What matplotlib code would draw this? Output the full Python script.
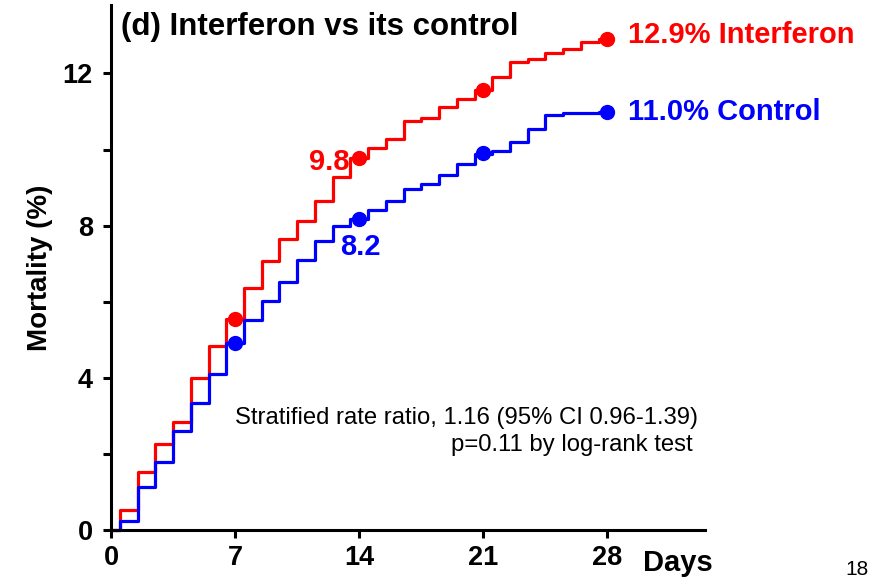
import matplotlib.pyplot as plt
from matplotlib.ticker import MultipleLocator

plt.rcParams['font.family'] = ['Liberation Sans', 'DejaVu Sans']

# Cumulative mortality (%) after each daily step
step_days = [0.5, 1.5, 2.5, 3.5, 4.5, 5.5, 6.5, 7.5, 8.5, 9.5, 10.5, 11.5, 12.5, 13.5,
             14.5, 15.5, 16.5, 17.5, 18.5, 19.5, 20.5, 21.5, 22.5, 23.5, 24.5, 25.5, 26.5, 27.5]
interferon = [0.53, 1.53, 2.26, 2.85, 3.99, 4.84, 5.55, 6.36, 7.07, 7.66, 8.13, 8.66, 9.28, 9.78,
              10.03, 10.27, 10.74, 10.82, 11.12, 11.34, 11.57, 11.91, 12.30, 12.39, 12.54, 12.64, 12.82, 12.90]
control = [0.24, 1.14, 1.80, 2.61, 3.34, 4.10, 4.92, 5.53, 6.03, 6.53, 7.09, 7.59, 8.00, 8.18,
           8.40, 8.64, 8.96, 9.10, 9.34, 9.61, 9.89, 9.97, 10.20, 10.55, 10.90, 10.95, 10.97, 11.00]
end_day = 28

marker_days = [7, 14, 21, 28]
interferon_marks = [5.55, 9.78, 11.57, 12.90]
control_marks = [4.92, 8.18, 9.91, 11.00]

x_ticks = [0, 7, 14, 21, 28]
y_ticks = [0, 4, 8, 12]

red = '#ff0000'
blue = '#0000ff'

fig = plt.figure(figsize=(8.72, 5.81), dpi=100)
ax = fig.add_axes([0.1273, 0.0878, 0.6812, 0.9036])

xs = [0] + step_days + [end_day]
ax.step(xs, [0] + interferon + [interferon[-1]], where='post', color=red, lw=2.3, clip_on=False)
ax.step(xs, [0] + control + [control[-1]], where='post', color=blue, lw=2.3, clip_on=False)
ax.plot(marker_days, interferon_marks, 'o', color=red, ms=10, clip_on=False)
ax.plot(marker_days, control_marks, 'o', color=blue, ms=10, clip_on=False)

ax.set_xlim(0, 33.5)
ax.set_ylim(0, 13.8)
ax.set_xticks(x_ticks)
ax.set_yticks(y_ticks)
ax.yaxis.set_minor_locator(MultipleLocator(2))
for s in ['top', 'right']:
    ax.spines[s].set_visible(False)
for s in ['left', 'bottom']:
    ax.spines[s].set_linewidth(2.2)
ax.tick_params(which='both', direction='out', width=2.2, length=6, labelsize=19.5)
ax.tick_params(axis='y', pad=7)
ax.tick_params(axis='x', pad=5)
for lab in ax.get_xticklabels() + ax.get_yticklabels():
    lab.set_fontweight('bold')

ax.set_ylabel('Mortality (%)', fontsize=20, fontweight='bold', labelpad=7)

ax.text(13.45, 9.66, '9.8', color=red, fontsize=21, fontweight='bold', ha='right', va='center')
ax.text(12.9, 7.43, '8.2', color=blue, fontsize=21, fontweight='bold', ha='left', va='center')
ax.text(29.15, 13.0, '12.9% Interferon', color=red, fontsize=21, fontweight='bold',
        ha='left', va='center', clip_on=False)
ax.text(29.15, 11.0, '11.0% Control', color=blue, fontsize=21, fontweight='bold',
        ha='left', va='center', clip_on=False)

ax.text(33.1, 2.95, 'Stratified rate ratio, 1.16 (95% CI 0.96-1.39)', fontsize=17.2,
        ha='right', va='center', clip_on=False)
ax.text(32.8, 2.24, 'p=0.11 by log-rank test', fontsize=17.2, ha='right', va='center', clip_on=False)

fig.text(0.139, 0.954, '(d) Interferon vs its control', fontsize=22.5, fontweight='bold',
         ha='left', va='center')
fig.text(0.737, 0.031, 'Days', fontsize=21, fontweight='bold', ha='left', va='center')
fig.text(0.969, 0.003, '18', fontsize=15, ha='left', va='bottom')

fig.savefig('out.png', dpi=100)
